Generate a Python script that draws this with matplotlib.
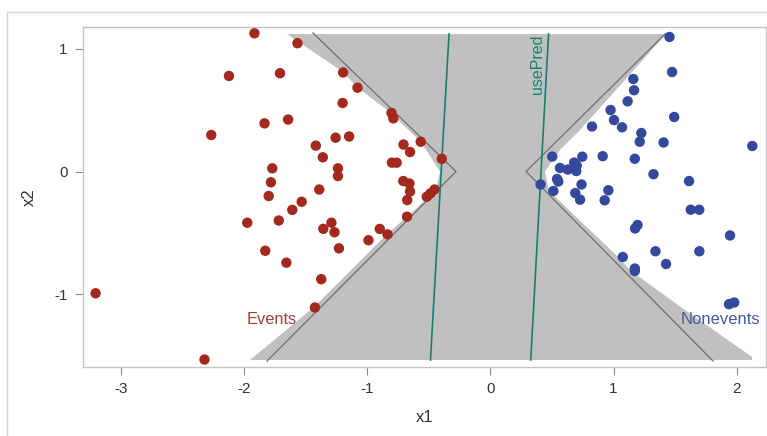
import matplotlib
matplotlib.use("Agg")
import matplotlib.pyplot as plt
from matplotlib.patches import Polygon, Rectangle

plt.rcParams['font.family'] = ['Liberation Sans', 'DejaVu Sans']

# Observations with the event (red)
event_x1 = [-1.919, -1.569, -2.126, -1.711, -1.198, -1.081, -1.202, -0.805, -0.790, -1.837,
            -1.645, -2.270, -1.259, -1.149, -1.420, -1.363, -0.707, -0.654, -0.567, -0.396,
            -1.774, -1.240, -1.240, -0.801, -0.763, -1.785, -0.709, -0.659, -1.392, -0.455,
            -0.488, -0.518, -0.654, -0.677, -1.803, -1.535, -1.611, -1.977, -1.721, -1.359,
            -1.293, -1.268, -1.232, -1.831, -1.659, -0.992, -0.900, -0.837, -0.679, -1.376,
            -1.427, -2.325, -3.210]
event_x2 = [1.128, 1.047, 0.780, 0.802, 0.808, 0.684, 0.559, 0.478, 0.434, 0.393,
            0.424, 0.298, 0.276, 0.286, 0.211, 0.116, 0.220, 0.159, 0.243, 0.104,
            0.026, 0.026, -0.037, 0.072, 0.072, -0.088, -0.078, -0.098, -0.147, -0.147,
            -0.178, -0.206, -0.163, -0.233, -0.200, -0.247, -0.313, -0.418, -0.400, -0.468,
            -0.418, -0.496, -0.627, -0.647, -0.744, -0.561, -0.469, -0.513, -0.369, -0.879,
            -1.110, -1.535, -0.994]

# Observations without the event (blue)
nonevent_x1 = [1.455, 1.476, 1.161, 1.167, 1.115, 1.493, 0.976, 1.004, 1.069, 0.825,
               1.226, 1.213, 1.407, 2.128, 0.502, 0.746, 0.912, 1.173, 0.565, 0.628,
               0.680, 0.701, 0.697, 1.325, 0.541, 0.551, 0.407, 0.740, 1.614, 0.511,
               0.689, 0.728, 0.958, 0.928, 1.628, 1.697, 1.195, 1.175, 1.947, 1.341,
               1.698, 1.075, 1.427, 1.173, 1.173, 1.939, 1.981]
nonevent_x2 = [1.098, 0.812, 0.755, 0.663, 0.573, 0.445, 0.502, 0.420, 0.361, 0.367,
               0.314, 0.243, 0.237, 0.208, 0.122, 0.121, 0.125, 0.104, 0.029, 0.016,
               0.073, 0.049, 0.004, -0.022, -0.061, -0.082, -0.106, -0.106, -0.078, -0.159,
               -0.176, -0.230, -0.153, -0.235, -0.312, -0.312, -0.437, -0.465, -0.522, -0.651,
               -0.651, -0.698, -0.755, -0.792, -0.812, -1.083, -1.069]

# Shaded prediction band (outline of the region between the two classes)
band_x1 = [-1.654, 1.427, 0.947, 0.728, 0.565, 0.443, 0.476, 1.037, 1.142, 1.524,
           2.126, 2.126, -1.955, -1.435, -0.841, -0.679, -0.443, -0.411, -0.565, -0.809,
           -1.077, -1.199]
band_x2 = [1.122, 1.122, 0.584, 0.339, 0.176, 0.0, -0.159, -0.698, -0.812, -1.090,
           -1.514, -1.539, -1.539, -1.106, -0.510, -0.371, -0.151, 0.0, 0.241, 0.478,
           0.682, 0.812]

# Margin lines (left and right wedges)
left_wedge_x1 = [-1.443, -0.280, -1.817]
left_wedge_x2 = [1.131, 0.0, -1.547]
right_wedge_x1 = [1.419, 0.289, 1.809]
right_wedge_x2 = [1.122, 0.0, -1.547]

# Predicted decision boundaries (usePred)
pred1_x1 = [-0.337, -0.488]
pred1_x2 = [1.122, -1.539]
pred2_x1 = [0.472, 0.327]
pred2_x2 = [1.122, -1.539]

x_ticks = [-3, -2, -1, 0, 1, 2]
y_ticks = [-1, 0, 1]

red = '#a3281d'
blue = '#34499b'
teal = '#16826a'
frame = '#c4c4c4'

fig = plt.figure(figsize=(7.67, 4.36), dpi=100)
ax = fig.add_axes([0.1078, 0.159, 0.8905, 0.7798])

# light outer frame around the graph area
fig.patches.append(Rectangle((7 / 767, -0.1), 1.2, (436 - 12) / 436 + 0.1,
                             transform=fig.transFigure, fill=False,
                             edgecolor='#d4d4d4', linewidth=1.0))

ax.add_patch(Polygon(list(zip(band_x1, band_x2)), closed=True,
                     facecolor='#c0c0c0', edgecolor='none', zorder=1))
ax.plot(left_wedge_x1, left_wedge_x2, color='#6e6e6e', lw=0.9, zorder=2)
ax.plot(right_wedge_x1, right_wedge_x2, color='#6e6e6e', lw=0.9, zorder=2)
ax.plot(pred1_x1, pred1_x2, color=teal, lw=1.2, zorder=3)
ax.plot(pred2_x1, pred2_x2, color=teal, lw=1.2, zorder=3)

ax.scatter(event_x1, event_x2, s=56, color=red, edgecolors='none', zorder=4)
ax.scatter(nonevent_x1, nonevent_x2, s=56, color=blue, edgecolors='none', zorder=4)

ax.text(0.386, 1.12, 'usePred', rotation=90, color=teal, fontsize=11.5,
        ha='center', va='top', zorder=5)
ax.text(-1.98, -1.21, 'Events', color='#a3423a', fontsize=11.8,
        ha='left', va='center', zorder=5)
ax.text(2.19, -1.21, 'Nonevents', color='#465a9e', fontsize=12,
        ha='right', va='center', zorder=5)

ax.set_xlim(-3.315, 2.237)
ax.set_ylim(-1.593, 1.182)
ax.set_xticks(x_ticks)
ax.set_yticks(y_ticks)
ax.set_xticklabels([str(t) for t in x_ticks])
ax.set_yticklabels([str(t) for t in y_ticks])
ax.tick_params(axis='both', colors='#8c8c8c', labelcolor='#333333',
               labelsize=11, length=6, width=0.8, pad=5)
for sp in ax.spines.values():
    sp.set_color(frame)
    sp.set_linewidth(1.0)

ax.set_xlabel('x1', fontsize=12, color='#333333', labelpad=10)
ax.set_ylabel('x2', fontsize=12, color='#333333', labelpad=12)

fig.savefig('out.png', dpi=100)
